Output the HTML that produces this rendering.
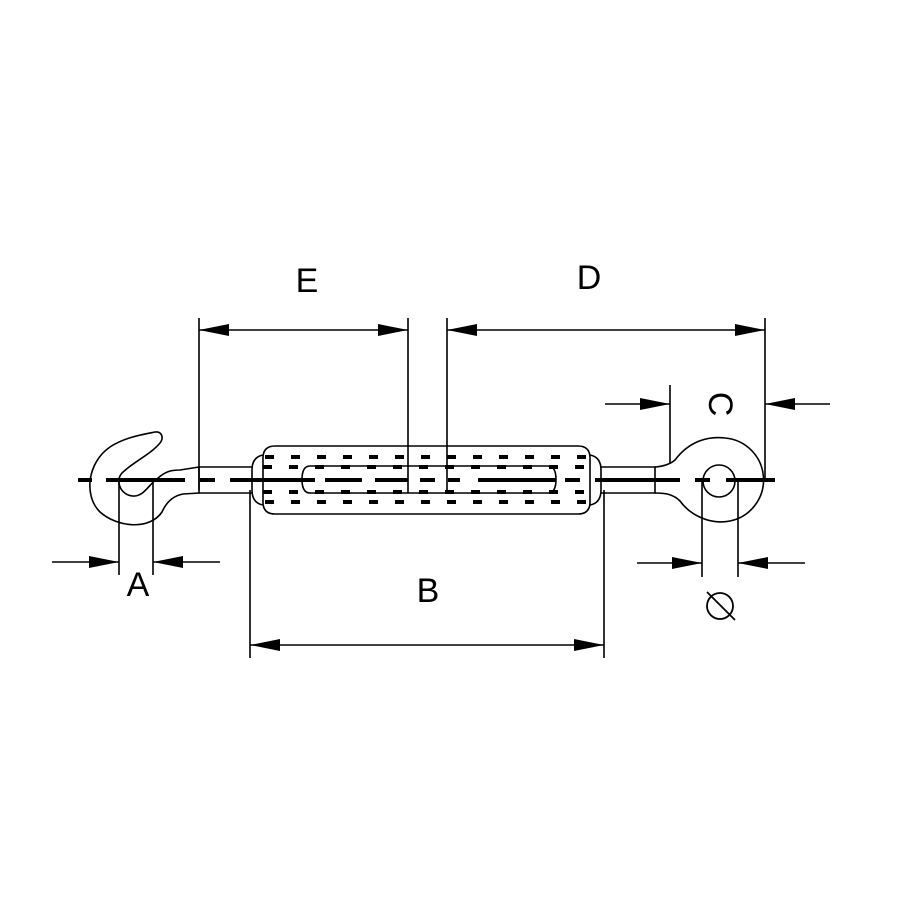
<!DOCTYPE html>
<html><head><style>html,body{margin:0;padding:0;background:#fff}svg{display:block}</style></head>
<body>
<svg width="900" height="900" viewBox="0 0 900 900" xmlns="http://www.w3.org/2000/svg">
<rect width="900" height="900" fill="#fff"/>
<g fill="none" stroke="#000" stroke-width="1.6">
<!-- hook -->
<path d="M180,470 L199,467 L199,493 L183,494 C172,496 166,503 162,512 C150,530 118,528 100,512 C83,495 88,462 110,447 C125,437 145,434 155,432 C162,431 164,438 160,443 C150,455 133,462 122,473 C114,482 122,497 135,496 C145,495 150,483 158,478 C166,471 172,470 180,470 Z"/>
<!-- left shank -->
<path d="M199,467 L253,467 M199,493 L253,493"/>
<!-- body -->
<path d="M275,446 L578,446 Q590,446 590,458 L590,502 Q590,514 578,514 L275,514 Q263,514 263,502 L263,458 Q263,446 275,446 Z" />
<path d="M263,455 Q252,457 252,470 L252,490 Q252,503 263,505"/>
<path d="M590,455 Q601,457 601,470 L601,490 Q601,503 590,505"/>
<path d="M310,466 L548,466 Q556,466 556,479.5 Q556,493 548,493 L310,493 Q302,493 302,479.5 Q302,466 310,466 Z"/>
<!-- right shank + eye -->
<path d="M601,467 L655,467 L655,493 L601,493"/>
<path d="M655,467 Q668,466 675,460 C690,440 710,436 725,438 A42,42 0 0 1 730,521 C710,525 690,515 680,501 C673,494 665,493 655,493"/>
<circle cx="719" cy="481" r="16"/>
<!-- extension lines -->
<path d="M199,318 V490 M408,318 V493 M447,318 V493 M765,318 V480 M250,490 V658 M604,490 V658 M119,480 V575 M153,480 V575 M670,385 V463 M702,480 V577 M738,480 V577"/>
<!-- dimension lines -->
<path d="M199,330 H408 M447,330 H765 M250,645 H604 M52,562 H119 M153,562 H220 M605,404 H670 M765,404 H830 M637,563 H702 M738,563 H805"/>
</g>
<!-- centerline dashes -->
<g stroke="#000" stroke-width="4" fill="none">
<path d="M78,480 H92 M106,480 H185 M200,480 H215 M230,480 H315 M325,480 H362 M375,480 H408 M420,480 H435 M448,480 H460 M478,480 H556 M565,480 H580 M595,480 H655 M655,480 H680 M695,480 H710 M726,480 H775"/>
<path d="M265,457 H600" stroke-dasharray="9 17"/>
<path d="M255,467 H600" stroke-dasharray="9 17" stroke-dashoffset="-8"/>
<path d="M255,492 H600" stroke-dasharray="9 17" stroke-dashoffset="-8"/>
<path d="M265,502 H600" stroke-dasharray="9 17"/>
</g>
<!-- arrowheads -->
<g fill="#000">
<polygon points="199,330 229,324 229,336"/>
<polygon points="408,330 378,324 378,336"/>
<polygon points="447,330 477,324 477,336"/>
<polygon points="765,330 735,324 735,336"/>
<polygon points="250,645 280,639 280,651"/>
<polygon points="604,645 574,639 574,651"/>
<polygon points="119,562 89,556 89,568"/>
<polygon points="153,562 183,556 183,568"/>
<polygon points="670,404 640,398 640,410"/>
<polygon points="765,404 795,398 795,410"/>
<polygon points="702,563 672,557 672,569"/>
<polygon points="738,563 768,557 768,569"/>
</g>
<g font-family="Liberation Sans, sans-serif" font-size="34" fill="#000" text-anchor="middle">
<text x="307" y="292">E</text>
<text x="589" y="289">D</text>
<text x="138" y="596">A</text>
<text x="428" y="602">B</text>
<text x="718" y="404" transform="rotate(90 718 404)" dominant-baseline="middle">C</text>
</g>
<g fill="none" stroke="#000" stroke-width="1.8">
<ellipse cx="720" cy="606" rx="13" ry="13"/>
<path d="M707,592 L735,620"/>
</g>
</svg>
</body></html>
